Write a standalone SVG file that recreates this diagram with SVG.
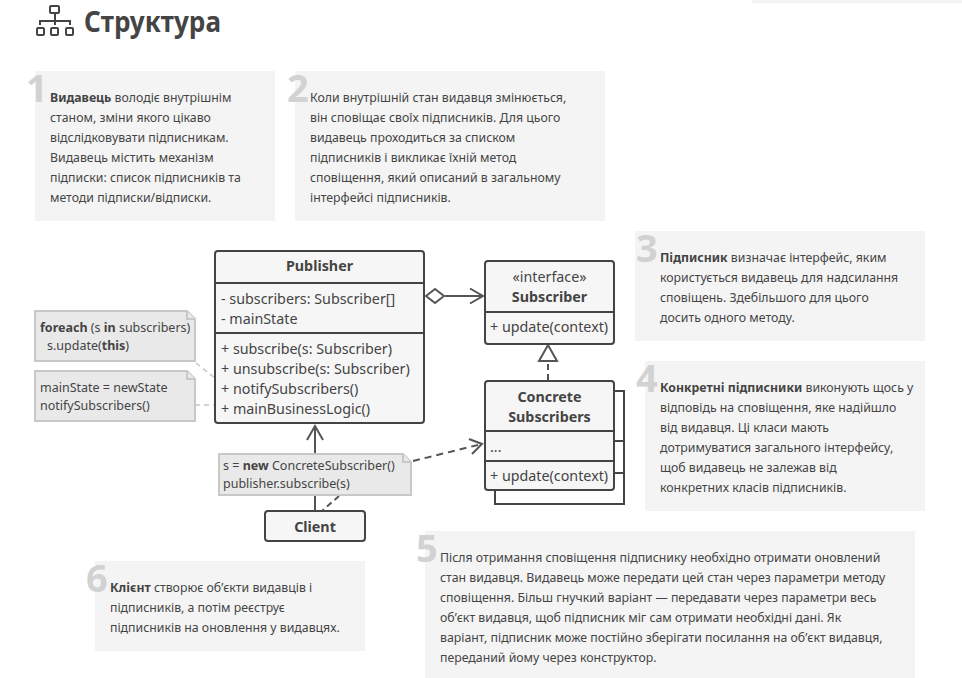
<svg xmlns="http://www.w3.org/2000/svg" width="962" height="678" viewBox="0 0 962 678">
<style>
text{font-family:"Noto Sans","Open Sans",sans-serif;fill:#444}
.p{fill:#f4f4f4}
.t{font-size:12.3px}
.n{font-size:38px;font-weight:700;fill:#d2d2d2}
.u{font-size:14.3px}
.b{font-weight:700}
.box{fill:#f6f6f6;stroke:#444;stroke-width:2}
.ln{fill:none;stroke:#444;stroke-width:2}
.con{fill:none;stroke:#555;stroke-width:2}
.note{fill:#e9e9e9;stroke:#c8c8c8;stroke-width:2}
.nt{font-size:12.5px}
.lead{fill:none;stroke:#c8c8c8;stroke-width:1.5;stroke-dasharray:5 4}
</style>
<rect x="752" y="0" width="210" height="3" class="p"/>
<g id="title">
<g fill="none" stroke="#444" stroke-width="2">
<rect x="50" y="6" width="9" height="7" rx="1"/>
<rect x="37" y="28" width="7" height="7" rx="1"/>
<rect x="51" y="28" width="7" height="7" rx="1"/>
<rect x="66" y="28" width="7" height="7" rx="1"/>
<path d="M55 13v12M40 25v-4h30v4"/>
</g>
<text x="84" y="32" font-size="28.5" font-weight="700" textLength="137" lengthAdjust="spacingAndGlyphs">Структура</text>
</g>
<g id="panel1">
<rect x="35" y="71" width="240" height="150" class="p"/>
<text x="26" y="102" class="n">1</text>
<text class="t" x="50" y="101.500"><tspan class="b">Видавець</tspan> володіє внутрішнім</text>
<text class="t" x="50" y="121.500">станом, зміни якого цікаво</text>
<text class="t" x="50" y="141.500">відслідковувати підписникам.</text>
<text class="t" x="50" y="161.500">Видавець містить механізм</text>
<text class="t" x="50" y="181.500">підписки: список підписників та</text>
<text class="t" x="50" y="201.500">методи підписки/відписки.</text>
</g>
<g id="panel2">
<rect x="295" y="71" width="310" height="150" class="p"/>
<text x="287" y="102" class="n">2</text>
<text class="t" x="310" y="101.500">Коли внутрішній стан видавця змінюється,</text>
<text class="t" x="310" y="121.500">він сповіщає своїх підписників. Для цього</text>
<text class="t" x="310" y="141.500">видавець проходиться за списком</text>
<text class="t" x="310" y="161.500">підписників і викликає їхній метод</text>
<text class="t" x="310" y="181.500">сповіщення, який описаний в загальному</text>
<text class="t" x="310" y="201.500">інтерфейсі підписників.</text>
</g>
<g id="panel3">
<rect x="635" y="231" width="290" height="110" class="p"/>
<text x="636" y="262" class="n">3</text>
<text class="t" x="660" y="261.500"><tspan class="b">Підписник</tspan> визначає інтерфейс, яким</text>
<text class="t" x="660" y="281.500">користується видавець для надсилання</text>
<text class="t" x="660" y="301.500">сповіщень. Здебільшого для цього</text>
<text class="t" x="660" y="321.500">досить одного методу.</text>
</g>
<g id="panel4">
<rect x="645" y="361" width="280" height="150" class="p"/>
<text x="636" y="392" class="n">4</text>
<text class="t" x="660" y="391.500"><tspan class="b">Конкретні підписники</tspan> виконують щось у</text>
<text class="t" x="660" y="411.500">відповідь на сповіщення, яке надійшло</text>
<text class="t" x="660" y="431.500">від видавця. Ці класи мають</text>
<text class="t" x="660" y="451.500">дотримуватися загального інтерфейсу,</text>
<text class="t" x="660" y="471.500">щоб видавець не залежав від</text>
<text class="t" x="660" y="491.500">конкретних класів підписників.</text>
</g>
<g id="panel5">
<rect x="425" y="531" width="490" height="147" class="p"/>
<text x="416" y="562" class="n">5</text>
<text class="t" x="440" y="561.500">Після отримання сповіщення підписнику необхідно отримати оновлений</text>
<text class="t" x="440" y="581.500">стан видавця. Видавець може передати цей стан через параметри методу</text>
<text class="t" x="440" y="601.500">сповіщення. Більш гнучкий варіант — передавати через параметри весь</text>
<text class="t" x="440" y="621.500">об’єкт видавця, щоб підписник міг сам отримати необхідні дані. Як</text>
<text class="t" x="440" y="641.500">варіант, підписник може постійно зберігати посилання на об’єкт видавця,</text>
<text class="t" x="440" y="661.500">переданий йому через конструктор.</text>
</g>
<g id="panel6">
<rect x="95" y="561" width="270" height="90" class="p"/>
<text x="86" y="592" class="n">6</text>
<text class="t" x="110" y="591.500"><tspan class="b">Клієнт</tspan> створює об’єкти видавців і</text>
<text class="t" x="110" y="611.500">підписників, а потім реєструє</text>
<text class="t" x="110" y="631.500">підписників на оновлення у видавцях.</text>
</g>
<g id="connectors">
<path class="lead" d="M196 363L215 378"/>
<path class="lead" d="M195 405H215"/>
<path class="con" d="M445 296H483M470 288.500L483 296L470 303.500"/>
<path class="con" d="M315 511V426M307 440L315 426L323 440"/>
<path class="con" stroke-dasharray="6 4" d="M548 380V362"/>
<path class="con" d="M548 345L539 361H557Z" fill="#fff"/>
<path class="con" stroke-dasharray="7 5" d="M413 461L482 444"/>
<path class="con" d="M469 439L482 444L472 454"/>
<path class="con" stroke-dasharray="6 4" stroke="#555" d="M339 496L322 511"/>
<path class="con" d="M426 296L435 289L444 296L435 303Z" fill="#fff"/>
</g>
<g id="publisher">
<rect x="215" y="251" width="209" height="172" rx="3" class="box"/>
<path class="ln" d="M215 283H424M215 333H424"/>
<text class="u b" x="319.500" y="271" text-anchor="middle">Publisher</text>
<text class="u" x="221" y="304">- subscribers: Subscriber[]</text>
<text class="u" x="221" y="324">- mainState</text>
<text class="u" x="221" y="354">+ subscribe(s: Subscriber)</text>
<text class="u" x="221" y="374">+ unsubscribe(s: Subscriber)</text>
<text class="u" x="221" y="394">+ notifySubscribers()</text>
<text class="u" x="221" y="414">+ mainBusinessLogic()</text>
</g>
<g id="subscriber">
<rect x="485" y="261" width="129" height="83" rx="3" class="box"/>
<path class="ln" d="M485 312H614"/>
<text class="u" x="549.500" y="282" text-anchor="middle">«interface»</text>
<text class="u b" x="549.500" y="302" text-anchor="middle">Subscriber</text>
<text class="u" x="490" y="332">+ update(context)</text>
</g>
<g id="concrete">
<path class="ln" d="M609 391H624V504H495V490"/>
<path class="ln" d="M614 441H624M614 473H624"/>
<rect x="485" y="381" width="129" height="109" rx="3" class="box"/>
<path class="ln" d="M485 431H614M485 461H614"/>
<text class="u b" x="549.500" y="402" text-anchor="middle">Concrete</text>
<text class="u b" x="549.500" y="422" text-anchor="middle">Subscribers</text>
<text class="u" x="490" y="452">...</text>
<text class="u" x="490" y="481">+ update(context)</text>
</g>
<g id="client">
<rect x="265" y="511" width="100" height="30" rx="3" class="box"/>
<text class="u b" x="315" y="532" text-anchor="middle">Client</text>
</g>
<g id="note1">
<path class="note" d="M35 311H187L195 319V361H35Z"/>
<path class="note" d="M187 311V319H195"/>
<text class="nt" x="40" y="332"><tspan class="b">foreach</tspan> (s <tspan class="b">in</tspan> subscribers)</text>
<text class="nt" x="47" y="350">s.update(<tspan class="b">this</tspan>)</text>
</g>
<g id="note2">
<path class="note" d="M35 371H187L195 379V421H35Z"/>
<path class="note" d="M187 371V379H195"/>
<text class="nt" x="40" y="392">mainState = newState</text>
<text class="nt" x="40" y="410">notifySubscribers()</text>
</g>
<g id="note3">
<path class="note" d="M219 454H403L411 462V495H219Z"/>
<path class="note" d="M403 454V462H411"/>
<text class="nt" x="223" y="470">s = <tspan class="b">new</tspan> ConcreteSubscriber()</text>
<text class="nt" x="223" y="488">publisher.subscribe(s)</text>
</g>
</svg>
